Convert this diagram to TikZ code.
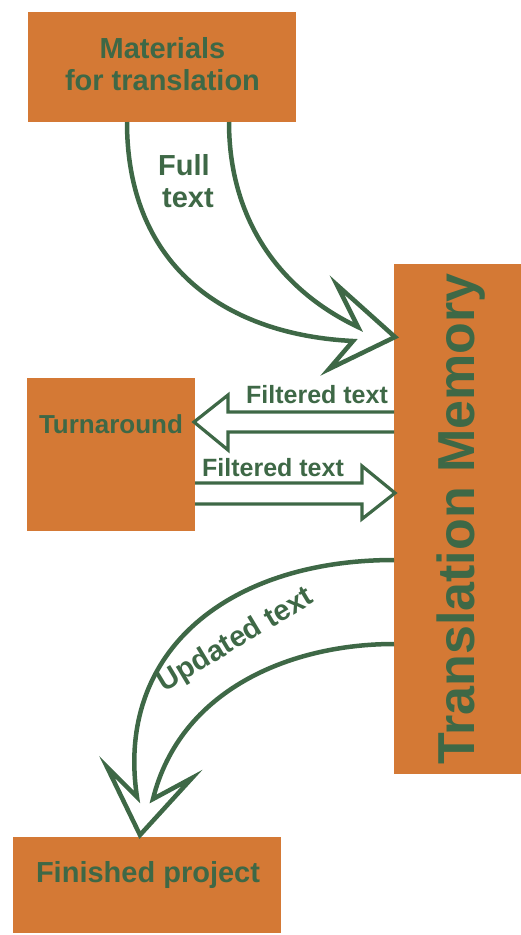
\documentclass[tikz,border=0pt]{standalone}
\usepackage{fontspec}
\setmainfont{Liberation Sans}
\definecolor{boxorange}{RGB}{212,121,53}
\definecolor{arrgreen}{RGB}{62,104,70}
\begin{document}
\begin{tikzpicture}[x=1pt,y=-1pt,
  box/.style={fill=boxorange, draw=none, inner sep=0pt, outer sep=0pt},
  lbl/.style={text=arrgreen, font=\bfseries\fontsize{#1}{#1}\selectfont, inner sep=0pt, anchor=base},
  bigarrow/.style={draw=arrgreen, line width=4.5pt, line join=miter, fill=none},
  flatarrow/.style={draw=arrgreen, line width=3.2pt, line join=miter, fill=none}]
\useasboundingbox (0,0) rectangle (521,935);
% boxes
\node[box, minimum width=268pt, minimum height=110pt] (mat) at (162,67) {};
\node[box, minimum width=127pt, minimum height=510pt] (tm) at (457.5,519) {};
\node[box, minimum width=168pt, minimum height=153pt] (turn) at (111,454.5) {};
\node[box, minimum width=268pt, minimum height=96pt] (fin) at (147,885) {};
% arrows
\draw[bigarrow] (127,0 |- mat.south) .. controls (127,270) and (230,335) .. (353,341)
  -- (329,369) -- (395,337) -- (337,285) -- (358,327)
  .. controls (280,290) and (229,220) .. (229,0 |- mat.south);
\draw[flatarrow] (tm.west |- 0,412) -- (228,412) -- (228,395) -- (194,422) -- (228,450) -- (228,432) -- (tm.west |- 0,432);
\draw[flatarrow] (turn.east |- 0,483) -- (362,483) -- (362,466) -- (395,493) -- (362,519) -- (362,504) -- (turn.east |- 0,504);
\draw[bigarrow] (tm.west |- 0,560) .. controls (230,560) and (115,650) .. (137,797)
  -- (107,767) -- (140,835) -- (192,778) -- (153,799)
  .. controls (180,690) and (290,644) .. (tm.west |- 0,644);
% labels
\node[lbl=29] (tmat1) at (162.5,58) {Materials};
\node[lbl=29] (tmat2) at (162.5,90) {for translation};
\node[lbl=29] (tfull1) at (184,175) {Full};
\node[lbl=29] (tfull2) at (188,207) {text};
\node[lbl=25] (tf1) at (317,403) {Filtered text};
\node[lbl=25] (tf2) at (273,476) {Filtered text};
\node[lbl=26] (tturn) at (111,433) {Turnaround};
\node[lbl=29] (tfin) at (148,882) {Finished project};
\node[lbl=52, rotate=90] (ttm) at (474,519) {Translation Memory};
\node[lbl=29, rotate=31] (tupd) at (240,647) {Updated text};
\end{tikzpicture}
\end{document}
